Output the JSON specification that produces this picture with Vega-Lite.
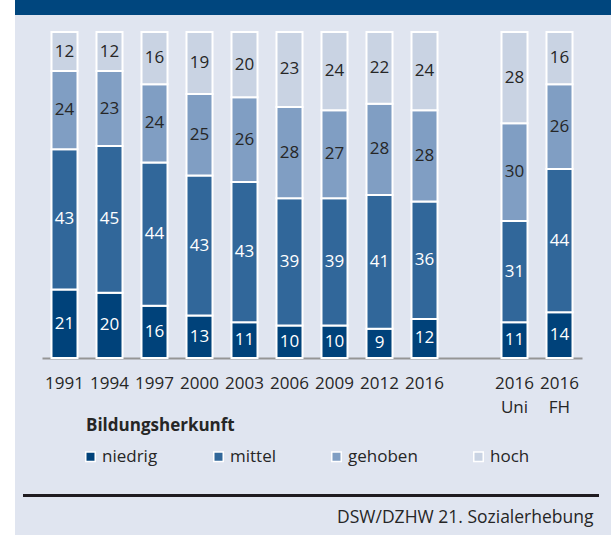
{
  "$schema": "https://vega.github.io/schema/vega-lite/v6.json",
  "width": 596,
  "height": 535,
  "autosize": "none",
  "padding": {"left": 15, "top": 0, "right": 0, "bottom": 0},
  "background": "white",
  "config": {
    "font": "Open Sans",
    "view": {"fill": "#e0e5f0", "stroke": null}
  },
  "data": {
    "values": [
      {"jahr": "1991", "gruppe": "niedrig", "ord": 1, "wert": 21},
      {"jahr": "1991", "gruppe": "mittel", "ord": 2, "wert": 43},
      {"jahr": "1991", "gruppe": "gehoben", "ord": 3, "wert": 24},
      {"jahr": "1991", "gruppe": "hoch", "ord": 4, "wert": 12},
      {"jahr": "1994", "gruppe": "niedrig", "ord": 1, "wert": 20},
      {"jahr": "1994", "gruppe": "mittel", "ord": 2, "wert": 45},
      {"jahr": "1994", "gruppe": "gehoben", "ord": 3, "wert": 23},
      {"jahr": "1994", "gruppe": "hoch", "ord": 4, "wert": 12},
      {"jahr": "1997", "gruppe": "niedrig", "ord": 1, "wert": 16},
      {"jahr": "1997", "gruppe": "mittel", "ord": 2, "wert": 44},
      {"jahr": "1997", "gruppe": "gehoben", "ord": 3, "wert": 24},
      {"jahr": "1997", "gruppe": "hoch", "ord": 4, "wert": 16},
      {"jahr": "2000", "gruppe": "niedrig", "ord": 1, "wert": 13},
      {"jahr": "2000", "gruppe": "mittel", "ord": 2, "wert": 43},
      {"jahr": "2000", "gruppe": "gehoben", "ord": 3, "wert": 25},
      {"jahr": "2000", "gruppe": "hoch", "ord": 4, "wert": 19},
      {"jahr": "2003", "gruppe": "niedrig", "ord": 1, "wert": 11},
      {"jahr": "2003", "gruppe": "mittel", "ord": 2, "wert": 43},
      {"jahr": "2003", "gruppe": "gehoben", "ord": 3, "wert": 26},
      {"jahr": "2003", "gruppe": "hoch", "ord": 4, "wert": 20},
      {"jahr": "2006", "gruppe": "niedrig", "ord": 1, "wert": 10},
      {"jahr": "2006", "gruppe": "mittel", "ord": 2, "wert": 39},
      {"jahr": "2006", "gruppe": "gehoben", "ord": 3, "wert": 28},
      {"jahr": "2006", "gruppe": "hoch", "ord": 4, "wert": 23},
      {"jahr": "2009", "gruppe": "niedrig", "ord": 1, "wert": 10},
      {"jahr": "2009", "gruppe": "mittel", "ord": 2, "wert": 39},
      {"jahr": "2009", "gruppe": "gehoben", "ord": 3, "wert": 27},
      {"jahr": "2009", "gruppe": "hoch", "ord": 4, "wert": 24},
      {"jahr": "2012", "gruppe": "niedrig", "ord": 1, "wert": 9},
      {"jahr": "2012", "gruppe": "mittel", "ord": 2, "wert": 41},
      {"jahr": "2012", "gruppe": "gehoben", "ord": 3, "wert": 28},
      {"jahr": "2012", "gruppe": "hoch", "ord": 4, "wert": 22},
      {"jahr": "2016", "gruppe": "niedrig", "ord": 1, "wert": 12},
      {"jahr": "2016", "gruppe": "mittel", "ord": 2, "wert": 36},
      {"jahr": "2016", "gruppe": "gehoben", "ord": 3, "wert": 28},
      {"jahr": "2016", "gruppe": "hoch", "ord": 4, "wert": 24},
      {"jahr": "2016 Uni", "gruppe": "niedrig", "ord": 1, "wert": 11},
      {"jahr": "2016 Uni", "gruppe": "mittel", "ord": 2, "wert": 31},
      {"jahr": "2016 Uni", "gruppe": "gehoben", "ord": 3, "wert": 30},
      {"jahr": "2016 Uni", "gruppe": "hoch", "ord": 4, "wert": 28},
      {"jahr": "2016 FH", "gruppe": "niedrig", "ord": 1, "wert": 14},
      {"jahr": "2016 FH", "gruppe": "mittel", "ord": 2, "wert": 44},
      {"jahr": "2016 FH", "gruppe": "gehoben", "ord": 3, "wert": 26},
      {"jahr": "2016 FH", "gruppe": "hoch", "ord": 4, "wert": 16}
    ]
  },
  "resolve": {"scale": {"x": "independent"}},
  "layer": [
    {
      "data": {"values": [{"band": "top"}]},
      "mark": {"type": "rect", "color": "#00467e"},
      "encoding": {
        "y": {"datum": 109.82, "type": "quantitative", "scale": {"domain": [0, 100], "range": [358, 32], "nice": false, "zero": false}, "axis": null},
        "y2": {"datum": 105.21}
      }
    },
    {
      "data": {"values": [{"linie": "unten"}]},
      "mark": {"type": "rule", "color": "#1f1b20", "strokeWidth": 3},
      "encoding": {
        "x": {"datum": 0, "type": "quantitative", "scale": {"domain": [0, 1], "range": [8, 584]}, "axis": null},
        "x2": {"datum": 1},
        "y": {"datum": -42.18, "type": "quantitative"}
      }
    },
    {
      "transform": [
        {"stack": "wert", "groupby": ["jahr"], "sort": [{"field": "ord", "order": "ascending"}], "as": ["y0", "y1"]}
      ],
      "mark": {"type": "bar", "stroke": "white", "strokeWidth": 2},
      "encoding": {
        "x": {
          "field": "jahr",
          "type": "nominal",
          "scale": {
            "domain": ["1991", "1994", "1997", "2000", "2003", "2006", "2009", "2012", "2016", "gap", "2016 Uni", "2016 FH"],
            "range": [27, 567],
            "paddingInner": 0.422,
            "paddingOuter": 0.211
          },
          "axis": {
            "orient": "bottom",
            "offset": -177,
            "domain": true,
            "domainColor": "#959595",
            "domainWidth": 2,
            "ticks": false,
            "tickSize": 0,
            "labelPadding": 17,
            "labelFontSize": 17,
            "labelColor": "#262626",
            "labelAngle": 0,
            "labelLineHeight": 24,
            "labelOverlap": false,
            "labelBound": false,
            "labelExpr": "datum.value == 'gap' ? '' : split(datum.value, ' ')",
            "title": "DSW/DZHW 21. Sozialerhebung",
            "titleX": 578,
            "titleY": 164,
            "titleAlign": "right",
            "titleBaseline": "alphabetic",
            "titleFontWeight": "normal",
            "titleFontSize": 17.5,
            "titleColor": "#262626"
          }
        },
        "y": {"field": "y0", "type": "quantitative"},
        "y2": {"field": "y1"},
        "color": {
          "field": "gruppe",
          "type": "nominal",
          "scale": {
            "domain": ["niedrig", "mittel", "gehoben", "hoch"],
            "range": ["#00427a", "#31679a", "#809ec3", "#c9d3e3"]
          },
          "legend": {
            "orient": "none",
            "legendX": 71,
            "legendY": 418,
            "direction": "horizontal",
            "columns": 4,
            "columnPadding": 52,
            "padding": 0,
            "title": "Bildungsherkunft",
            "titleFontSize": 17,
            "titleFontWeight": "bold",
            "titleColor": "#262626",
            "titlePadding": 13,
            "labelFontSize": 17,
            "labelColor": "#262626",
            "labelOffset": 3,
            "symbolOffset": -4,
            "symbolType": "square",
            "symbolSize": 90,
            "symbolStrokeColor": "white",
            "symbolStrokeWidth": 1.5,
            "symbolOpacity": 1
          }
        }
      }
    },
    {
      "transform": [
        {"stack": "wert", "groupby": ["jahr"], "sort": [{"field": "ord", "order": "ascending"}], "as": ["y0", "y1"]},
        {"calculate": "(datum.y0 + datum.y1) / 2", "as": "ymid"}
      ],
      "mark": {"type": "text", "fontSize": 17, "baseline": "middle", "align": "center"},
      "encoding": {
        "x": {
          "field": "jahr",
          "type": "nominal",
          "scale": {
            "domain": ["1991", "1994", "1997", "2000", "2003", "2006", "2009", "2012", "2016", "gap", "2016 Uni", "2016 FH"],
            "range": [27, 567],
            "paddingInner": 0.422,
            "paddingOuter": 0.211
          },
          "axis": null
        },
        "y": {"field": "ymid", "type": "quantitative"},
        "text": {"field": "wert", "type": "quantitative"},
        "color": {"condition": {"test": "datum.ord <= 2", "value": "white"}, "value": "#262626"}
      }
    }
  ]
}
